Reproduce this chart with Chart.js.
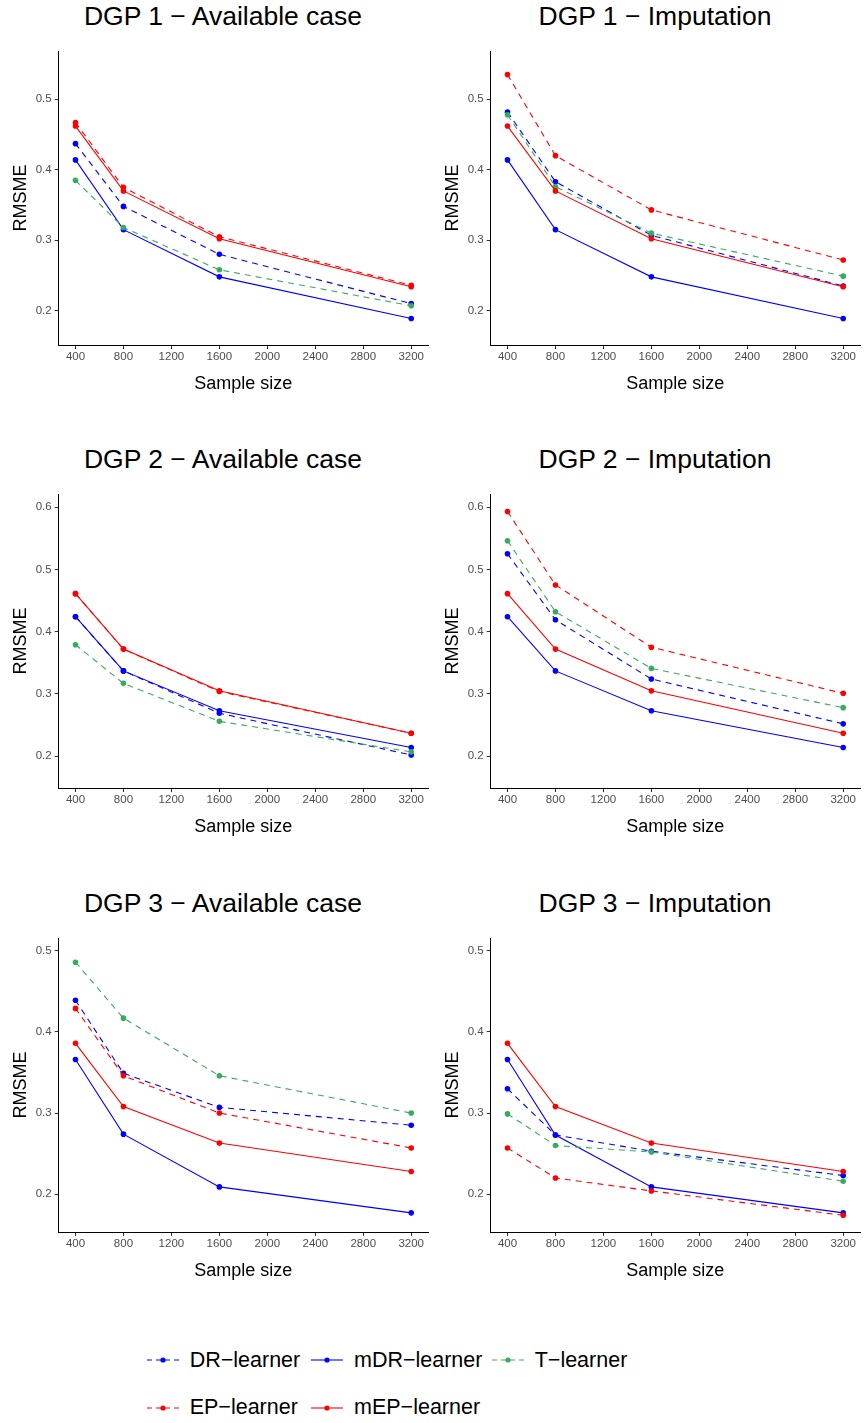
<!DOCTYPE html>
<html>
<head>
<meta charset="utf-8">
<script src="https://cdn.jsdelivr.net/npm/chart.js@4.4.1/dist/chart.umd.min.js"></script>
<style>
  body { margin: 0; background: #fff; }
  #page { position: relative; width: 864px; height: 1423px; font-family: "Liberation Sans", Arial, sans-serif; }
  .title { position: absolute; width: 432px; text-align: center; font-size: 26.5px; line-height: 26px; color: #000; }
  .panel { position: absolute; }
  .key { position: absolute; display: flex; align-items: center; height: 30px; font-size: 21.5px; color: #000; white-space: nowrap; }
  .key svg { margin-right: 11px; }
</style>
</head>
<body>
<div id="page"></div>
<script>
const sampleSizes = [400, 800, 1600, 3200]
const learners = ['DR−learner', 'mDR−learner', 'T−learner', 'EP−learner', 'mEP−learner']
const xTicks = [400, 800, 1200, 1600, 2000, 2400, 2800, 3200]
const yTicksRow1 = [0.2, 0.3, 0.4, 0.5]
const yTicksRow2 = [0.2, 0.3, 0.4, 0.5, 0.6]
const yTicksRow3 = [0.2, 0.3, 0.4, 0.5]

// one row per learner, same order as `learners`
const dgp1Available = [
    [0.437, 0.348, 0.280, 0.210],
    [0.414, 0.315, 0.248, 0.189],
    [0.385, 0.318, 0.258, 0.207],
    [0.467, 0.375, 0.305, 0.236],
    [0.462, 0.370, 0.302, 0.234]
]
const dgp1Imputation = [
    [0.482, 0.383, 0.307, 0.235],
    [0.414, 0.315, 0.248, 0.189],
    [0.478, 0.376, 0.310, 0.249],
    [0.535, 0.420, 0.343, 0.272],
    [0.462, 0.370, 0.302, 0.234]
]
const dgp2Available = [
    [0.424, 0.337, 0.269, 0.202],
    [0.424, 0.337, 0.273, 0.214],
    [0.379, 0.317, 0.256, 0.207],
    [0.461, 0.372, 0.304, 0.237],
    [0.461, 0.372, 0.305, 0.237]
]
const dgp2Imputation = [
    [0.525, 0.419, 0.324, 0.252],
    [0.424, 0.337, 0.273, 0.214],
    [0.546, 0.432, 0.341, 0.278],
    [0.593, 0.475, 0.375, 0.301],
    [0.461, 0.372, 0.305, 0.237]
]
const dgp3Available = [
    [0.439, 0.349, 0.307, 0.285],
    [0.366, 0.274, 0.209, 0.177],
    [0.486, 0.417, 0.346, 0.300],
    [0.429, 0.346, 0.300, 0.257],
    [0.386, 0.308, 0.263, 0.228]
]
const dgp3Imputation = [
    [0.330, 0.273, 0.253, 0.223],
    [0.366, 0.273, 0.209, 0.177],
    [0.299, 0.260, 0.252, 0.216],
    [0.257, 0.220, 0.204, 0.174],
    [0.386, 0.308, 0.263, 0.228]
]

/* styles */
const lineColors = ['#0000FF', '#0000FF', '#3AAA5C', '#FF0000', '#FF0000']
const lineDashes = [[6, 5], [], [6, 5], [6, 5], []]
const fontFamily = '"Liberation Sans", Arial, sans-serif'

/* layout */
const plotTops = [51, 494, 937.5]
const plotHeight = 294
const yLimits = [[0.1513, 0.5685], [0.149, 0.621], [0.1534, 0.5158]]
const yTickRows = [yTicksRow1, yTicksRow2, yTicksRow3]

const panels = [
    {title: 'DGP 1 − Available case', values: dgp1Available, row: 0, col: 0},
    {title: 'DGP 1 − Imputation', values: dgp1Imputation, row: 0, col: 1},
    {title: 'DGP 2 − Available case', values: dgp2Available, row: 1, col: 0},
    {title: 'DGP 2 − Imputation', values: dgp2Imputation, row: 1, col: 1},
    {title: 'DGP 3 − Available case', values: dgp3Available, row: 2, col: 0},
    {title: 'DGP 3 − Imputation', values: dgp3Imputation, row: 2, col: 1}
]

const page = document.getElementById('page')

function makePanel(panel){
    const left = panel.col * 432
    const plotTop = plotTops[panel.row]

    const title = document.createElement('div')
    title.className = 'title'
    title.textContent = panel.title
    title.style.left = (left + 7) + 'px'
    title.style.top = (plotTop - 48) + 'px'
    page.append(title)

    const canvas = document.createElement('canvas')
    canvas.className = 'panel'
    canvas.width = 432
    canvas.height = 10 + plotHeight + 50
    canvas.style.left = left + 'px'
    canvas.style.top = (plotTop - 10) + 'px'
    page.append(canvas)

    const yTicks = yTickRows[panel.row]

    new Chart(canvas, {
        type: 'line',
        data: {
            datasets: learners.map((name, i) => ({
                label: name,
                data: sampleSizes.map((x, j) => ({x: x, y: panel.values[i][j]})),
                borderColor: lineColors[i],
                backgroundColor: lineColors[i],
                pointBackgroundColor: lineColors[i],
                borderDash: lineDashes[i],
                borderWidth: 1.1,
                pointRadius: 2.8,
                pointBorderWidth: 0,
                tension: 0,
                order: learners.length - 1 - i
            }))
        },
        options: {
            responsive: false,
            animation: false,
            devicePixelRatio: 1,
            layout: {padding: {top: 10, right: 0, bottom: 0, left: 0}},
            plugins: {legend: {display: false}, tooltip: {enabled: false}},
            scales: {
                x: {
                    type: 'linear',
                    min: 260,
                    max: 3340,
                    afterBuildTicks: s => { s.ticks = xTicks.map(v => ({value: v})) },
                    afterFit: s => { s.height = 50 },
                    ticks: {color: '#4D4D4D', font: {family: fontFamily, size: 11.5}, padding: 1, maxRotation: 0, autoSkip: false, callback: v => String(v)},
                    grid: {drawOnChartArea: false, drawTicks: true, tickLength: 4, color: '#333333'},
                    border: {display: true, color: '#000000', width: 1},
                    title: {display: true, text: 'Sample size', color: '#000000', font: {family: fontFamily, size: 18}, padding: 0}
                },
                y: {
                    type: 'linear',
                    min: yLimits[panel.row][0],
                    max: yLimits[panel.row][1],
                    afterBuildTicks: s => { s.ticks = yTicks.map(v => ({value: v})) },
                    afterFit: s => { s.width = 58.7 },
                    ticks: {color: '#4D4D4D', font: {family: fontFamily, size: 11.5}, padding: 3, callback: v => v.toFixed(1)},
                    grid: {drawOnChartArea: false, drawTicks: true, tickLength: 4, color: '#333333'},
                    border: {display: true, color: '#000000', width: 1},
                    title: {display: true, text: 'RMSME', color: '#000000', font: {family: fontFamily, size: 18}, padding: {top: 10, bottom: 0}}
                }
            }
        }
    })
}

panels.forEach(makePanel)

/*Legend*/
const legendSlots = [[146.7, 1360], [311, 1360], [491.7, 1360], [146.7, 1407.5], [311, 1407.5]]
learners.forEach(function(name, i){
    const item = document.createElement('div')
    item.className = 'key'
    item.style.left = legendSlots[i][0] + 'px'
    item.style.top = (legendSlots[i][1] - 15) + 'px'
    const dash = lineDashes[i].length ? `stroke-dasharray="5 4"` : ''
    item.innerHTML = `<svg width="32" height="30"><line x1="0" y1="15" x2="32" y2="15" stroke="${lineColors[i]}" stroke-width="1.1" ${dash}/><circle cx="16" cy="15" r="2.6" fill="${lineColors[i]}"/></svg><span>${name}</span>`
    page.append(item)
})
</script>
</body>
</html>
